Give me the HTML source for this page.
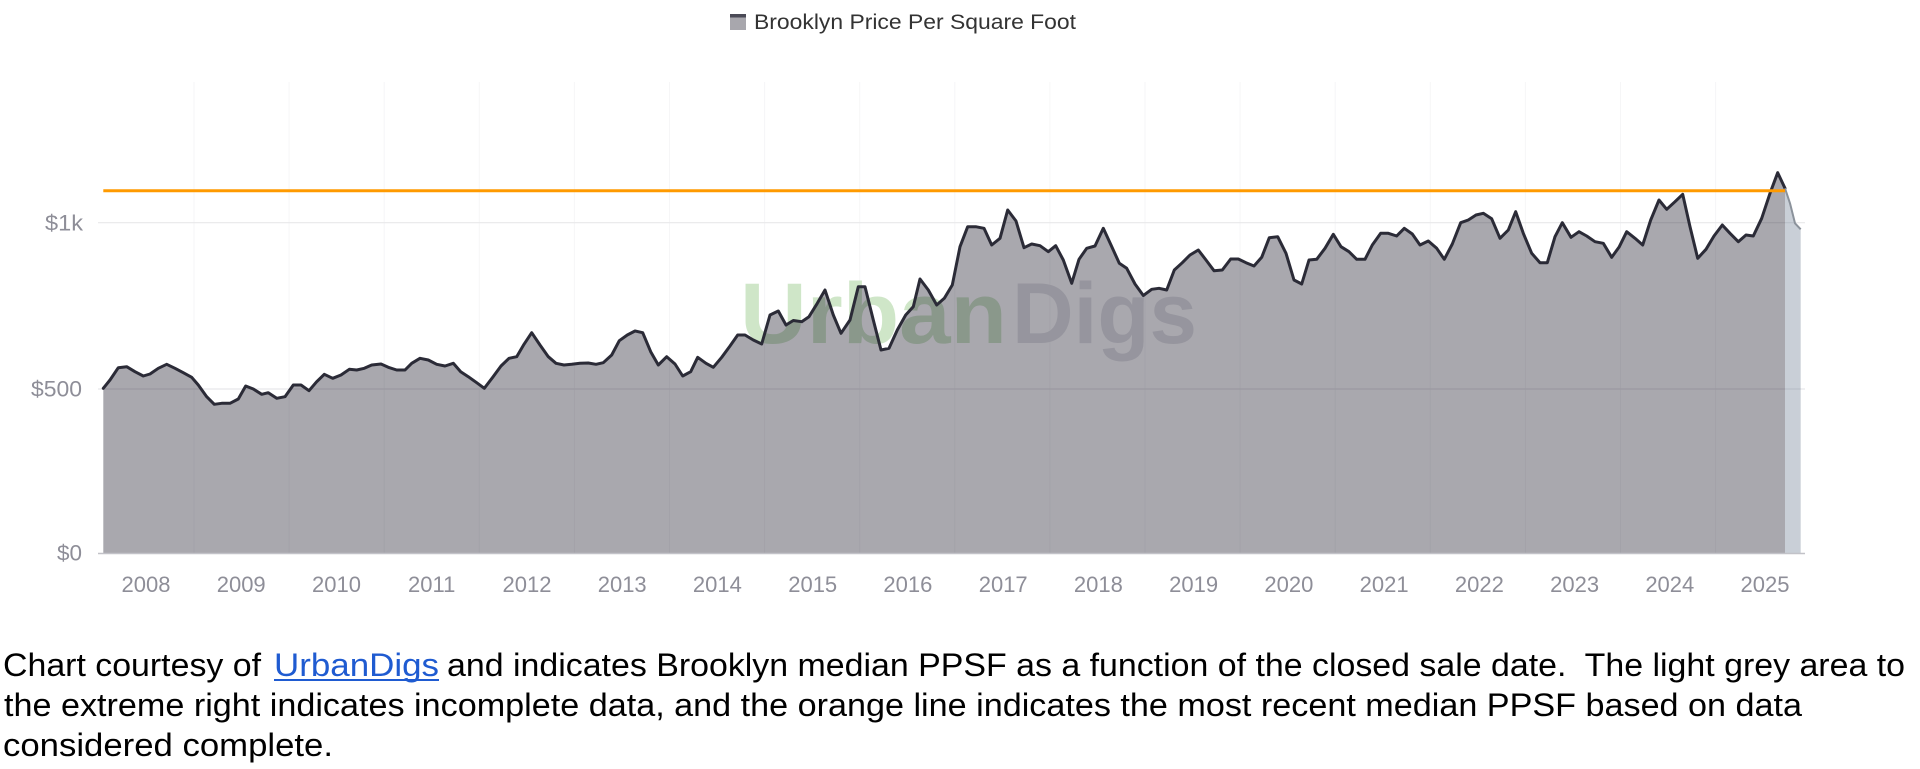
<!DOCTYPE html>
<html>
<head>
<meta charset="utf-8">
<style>
html,body{margin:0;padding:0;background:#fff;}
svg{display:block;}
text{font-family:"Liberation Sans",Arial,sans-serif;}
</style>
</head>
<body>
<svg width="1920" height="769" viewBox="0 0 1920 769" xmlns="http://www.w3.org/2000/svg">
<rect x="0" y="0" width="1920" height="769" fill="#ffffff"/>

<!-- vertical grid lines -->
<g stroke="#f6f6f7" stroke-width="1">
<line x1="194" y1="82" x2="194" y2="553"/>
<line x1="289.1" y1="82" x2="289.1" y2="553"/>
<line x1="384.2" y1="82" x2="384.2" y2="553"/>
<line x1="479.3" y1="82" x2="479.3" y2="553"/>
<line x1="574.4" y1="82" x2="574.4" y2="553"/>
<line x1="669.5" y1="82" x2="669.5" y2="553"/>
<line x1="764.6" y1="82" x2="764.6" y2="553"/>
<line x1="859.7" y1="82" x2="859.7" y2="553"/>
<line x1="954.8" y1="82" x2="954.8" y2="553"/>
<line x1="1049.9" y1="82" x2="1049.9" y2="553"/>
<line x1="1145" y1="82" x2="1145" y2="553"/>
<line x1="1240.1" y1="82" x2="1240.1" y2="553"/>
<line x1="1335.2" y1="82" x2="1335.2" y2="553"/>
<line x1="1430.3" y1="82" x2="1430.3" y2="553"/>
<line x1="1525.4" y1="82" x2="1525.4" y2="553"/>
<line x1="1620.5" y1="82" x2="1620.5" y2="553"/>
<line x1="1715.6" y1="82" x2="1715.6" y2="553"/>
</g>

<!-- horizontal grid lines -->
<g stroke="#e8e8ea" stroke-width="1.2">
<line x1="98" y1="222.7" x2="1805" y2="222.7"/>
<line x1="98" y1="389" x2="1805" y2="389"/>
</g>

<!-- watermark -->
<text x="740" y="343" font-size="86" font-weight="bold" fill="#cfe6c8" textLength="267" lengthAdjust="spacingAndGlyphs">Urban</text>
<text x="1012" y="343" font-size="86" font-weight="bold" fill="#e2e2e6" textLength="185" lengthAdjust="spacingAndGlyphs">Digs</text>

<!-- main area -->
<path fill="rgba(16,14,30,0.36)" d="M103.3,553 L103.3,388.3 L110,380 L118.3,367.7 L126.7,366.7 L135,371.7 L143.3,376 L150,374 L158.3,368.3 L166.7,364.3 L175,368.3 L183.3,372.7 L191.7,377.3 L198.3,385 L206.7,396.7 L214.3,404.3 L221.7,403.3 L230,403.3 L238.3,399 L245.7,386 L253.3,389 L261.7,394.3 L268.3,392.7 L276.7,398.3 L285,396.7 L293.3,385 L301,385 L309,390.7 L316.7,381.7 L324.3,374.3 L332.7,378.3 L341,375 L349.3,369.3 L356.7,370 L364.3,368.3 L371.7,365 L381,364 L388.3,367.3 L396.7,370 L405,370 L411.7,363.3 L420,358.3 L428.3,360 L436.7,364.3 L445,366 L453.3,363.3 L460.7,371.7 L468.3,376.7 L476.7,382.7 L484.3,388.3 L492.7,377.3 L501,366 L509,358.3 L516.7,356.7 L524,344.3 L531.7,332.7 L540,345 L548.3,356.7 L556,363.3 L564,365 L571.7,364.3 L580,363.3 L588.3,363 L596,364.3 L603.3,362.7 L611.7,355 L619.3,340.7 L627.3,335 L635,331 L642.7,332.7 L650.7,351.7 L658.3,365 L666.7,356.7 L675,364 L682.7,376 L690.7,371.7 L697.7,357.3 L706,363.3 L713.3,367.3 L721.7,357.3 L730,346 L737.7,335 L745,335 L753.3,340 L761.7,344 L770,315 L778.3,311 L786,325 L793.3,320.5 L801.7,321.7 L809,316.7 L817.3,303.3 L825,290 L833.3,315 L841,333.3 L850,320 L858.3,286.7 L865,286.7 L873.3,320 L881,350 L889,348.3 L897.3,330 L905.7,315 L913.3,306.7 L920,279 L928.3,290 L936.7,305 L944.3,298.3 L952.3,285 L960,246.7 L967.7,226.7 L975.7,226.7 L984,228.3 L991.7,245 L1000,238.3 L1007.7,210 L1016,221 L1024,247.7 L1031.7,244 L1040,245.7 L1048.3,251.7 L1055.7,245.7 L1063.3,260 L1071.7,283.3 L1079,259.3 L1086.7,248.3 L1095,246 L1103.3,228.3 L1111,245 L1119.3,263.3 L1126.7,268.3 L1135,284 L1143.3,295.5 L1151.7,289.3 L1159,288.3 L1166.7,290 L1174.3,270 L1182.3,262.7 L1190,255 L1198.3,250 L1206,260 L1214,270.7 L1222.3,270 L1230.7,259 L1238.3,259 L1246,262.7 L1254,266 L1261.7,257.3 L1269.3,237.7 L1277.7,236.7 L1286,253.3 L1294,280 L1301.7,284 L1309,260 L1316.7,259.3 L1325,248.3 L1333.3,234.3 L1341,246.7 L1349,251.7 L1356.7,259.3 L1365,259.3 L1372.3,245 L1380.7,233.3 L1388.3,233.3 L1396.7,236 L1404.3,228.3 L1412.3,234 L1420,245 L1428.3,241 L1436.7,248.3 L1444.3,259.3 L1452.3,244 L1460.7,222.7 L1468.3,220 L1476,215 L1483.3,213.3 L1491.7,218.8 L1500,238.3 L1508.3,230 L1515.7,211.7 L1523.3,233.3 L1531.7,253.3 L1540,262.7 L1547.3,262.7 L1555,236.7 L1562.3,222.7 L1571,237.3 L1579,231.7 L1586.7,236 L1595,241.7 L1603.3,243.3 L1611.7,257.3 L1619.3,246.7 L1626.7,231.7 L1635,238.3 L1642.7,245 L1650.7,220 L1659,200 L1666.7,209.3 L1675,201.7 L1682.7,194.3 L1690,226.7 L1697.7,258.3 L1706,249.3 L1714,236 L1722.3,225 L1730,233.3 L1738.3,241.7 L1746,235 L1753.3,236 L1761.7,218.3 L1770,193.3 L1777.7,172.7 L1785,188.3 L1785,553 Z"/>

<!-- incomplete data area -->
<path fill="rgba(90,110,135,0.33)" d="M1785,553 L1785,188.3 L1790,203.3 L1795,223.3 L1800.7,229.3 L1800.7,553 Z"/>

<!-- x axis line -->
<line x1="98" y1="553.5" x2="1805" y2="553.5" stroke="#c2c2c8" stroke-width="1.5"/>

<!-- series line -->
<polyline fill="none" stroke="#2b2b37" stroke-width="3" stroke-linejoin="round" stroke-linecap="round" points="103.3,388.3 110,380 118.3,367.7 126.7,366.7 135,371.7 143.3,376 150,374 158.3,368.3 166.7,364.3 175,368.3 183.3,372.7 191.7,377.3 198.3,385 206.7,396.7 214.3,404.3 221.7,403.3 230,403.3 238.3,399 245.7,386 253.3,389 261.7,394.3 268.3,392.7 276.7,398.3 285,396.7 293.3,385 301,385 309,390.7 316.7,381.7 324.3,374.3 332.7,378.3 341,375 349.3,369.3 356.7,370 364.3,368.3 371.7,365 381,364 388.3,367.3 396.7,370 405,370 411.7,363.3 420,358.3 428.3,360 436.7,364.3 445,366 453.3,363.3 460.7,371.7 468.3,376.7 476.7,382.7 484.3,388.3 492.7,377.3 501,366 509,358.3 516.7,356.7 524,344.3 531.7,332.7 540,345 548.3,356.7 556,363.3 564,365 571.7,364.3 580,363.3 588.3,363 596,364.3 603.3,362.7 611.7,355 619.3,340.7 627.3,335 635,331 642.7,332.7 650.7,351.7 658.3,365 666.7,356.7 675,364 682.7,376 690.7,371.7 697.7,357.3 706,363.3 713.3,367.3 721.7,357.3 730,346 737.7,335 745,335 753.3,340 761.7,344 770,315 778.3,311 786,325 793.3,320.5 801.7,321.7 809,316.7 817.3,303.3 825,290 833.3,315 841,333.3 850,320 858.3,286.7 865,286.7 873.3,320 881,350 889,348.3 897.3,330 905.7,315 913.3,306.7 920,279 928.3,290 936.7,305 944.3,298.3 952.3,285 960,246.7 967.7,226.7 975.7,226.7 984,228.3 991.7,245 1000,238.3 1007.7,210 1016,221 1024,247.7 1031.7,244 1040,245.7 1048.3,251.7 1055.7,245.7 1063.3,260 1071.7,283.3 1079,259.3 1086.7,248.3 1095,246 1103.3,228.3 1111,245 1119.3,263.3 1126.7,268.3 1135,284 1143.3,295.5 1151.7,289.3 1159,288.3 1166.7,290 1174.3,270 1182.3,262.7 1190,255 1198.3,250 1206,260 1214,270.7 1222.3,270 1230.7,259 1238.3,259 1246,262.7 1254,266 1261.7,257.3 1269.3,237.7 1277.7,236.7 1286,253.3 1294,280 1301.7,284 1309,260 1316.7,259.3 1325,248.3 1333.3,234.3 1341,246.7 1349,251.7 1356.7,259.3 1365,259.3 1372.3,245 1380.7,233.3 1388.3,233.3 1396.7,236 1404.3,228.3 1412.3,234 1420,245 1428.3,241 1436.7,248.3 1444.3,259.3 1452.3,244 1460.7,222.7 1468.3,220 1476,215 1483.3,213.3 1491.7,218.8 1500,238.3 1508.3,230 1515.7,211.7 1523.3,233.3 1531.7,253.3 1540,262.7 1547.3,262.7 1555,236.7 1562.3,222.7 1571,237.3 1579,231.7 1586.7,236 1595,241.7 1603.3,243.3 1611.7,257.3 1619.3,246.7 1626.7,231.7 1635,238.3 1642.7,245 1650.7,220 1659,200 1666.7,209.3 1675,201.7 1682.7,194.3 1690,226.7 1697.7,258.3 1706,249.3 1714,236 1722.3,225 1730,233.3 1738.3,241.7 1746,235 1753.3,236 1761.7,218.3 1770,193.3 1777.7,172.7 1785,188.3"/>
<polyline fill="none" stroke="#8b929b" stroke-width="2" stroke-linejoin="round" points="1785,188.3 1790,203.3 1795,223.3 1800.7,229.3"/>

<!-- orange reference line -->
<line x1="103.3" y1="190.7" x2="1785" y2="190.7" stroke="#ff9a00" stroke-width="3"/>

<!-- y axis labels -->
<g font-size="22" fill="#8e8e98" text-anchor="end">
<text x="83" y="230.5" textLength="38" lengthAdjust="spacingAndGlyphs">$1k</text>
<text x="82" y="396.7" textLength="51" lengthAdjust="spacingAndGlyphs">$500</text>
<text x="82" y="560.7" textLength="25" lengthAdjust="spacingAndGlyphs">$0</text>
</g>

<!-- x axis labels -->
<g font-size="22" fill="#8e8e98" text-anchor="middle">
<text x="146" y="592">2008</text>
<text x="241.2" y="592">2009</text>
<text x="336.5" y="592">2010</text>
<text x="431.7" y="592">2011</text>
<text x="527" y="592">2012</text>
<text x="622.2" y="592">2013</text>
<text x="717.4" y="592">2014</text>
<text x="812.7" y="592">2015</text>
<text x="907.9" y="592">2016</text>
<text x="1003.2" y="592">2017</text>
<text x="1098.4" y="592">2018</text>
<text x="1193.6" y="592">2019</text>
<text x="1288.9" y="592">2020</text>
<text x="1384.1" y="592">2021</text>
<text x="1479.4" y="592">2022</text>
<text x="1574.6" y="592">2023</text>
<text x="1669.8" y="592">2024</text>
<text x="1765" y="592">2025</text>
</g>

<!-- legend -->
<rect x="730" y="14" width="16" height="16" fill="#a8a7ad"/>
<rect x="730" y="14" width="16" height="3.5" fill="#4a4a56"/>
<text x="754" y="29" font-size="21" fill="#333333" textLength="322" lengthAdjust="spacingAndGlyphs">Brooklyn Price Per Square Foot</text>

<!-- caption -->
<g font-size="32" fill="#000000">
<text x="3" y="676" textLength="258" lengthAdjust="spacingAndGlyphs">Chart courtesy of</text>
<text x="274" y="676" fill="#1f5bd1" textLength="165" lengthAdjust="spacingAndGlyphs">UrbanDigs</text>
<text x="447" y="676" xml:space="preserve" textLength="1458" lengthAdjust="spacingAndGlyphs">and indicates Brooklyn median PPSF as a function of the closed sale date.  The light grey area to</text>
<text x="4" y="716" textLength="1798" lengthAdjust="spacingAndGlyphs">the extreme right indicates incomplete data, and the orange line indicates the most recent median PPSF based on data</text>
<text x="3" y="756" textLength="330" lengthAdjust="spacingAndGlyphs">considered complete.</text>
</g>
<rect x="274" y="679" width="165" height="2" fill="#1f5bd1"/>
</svg>
</body>
</html>
